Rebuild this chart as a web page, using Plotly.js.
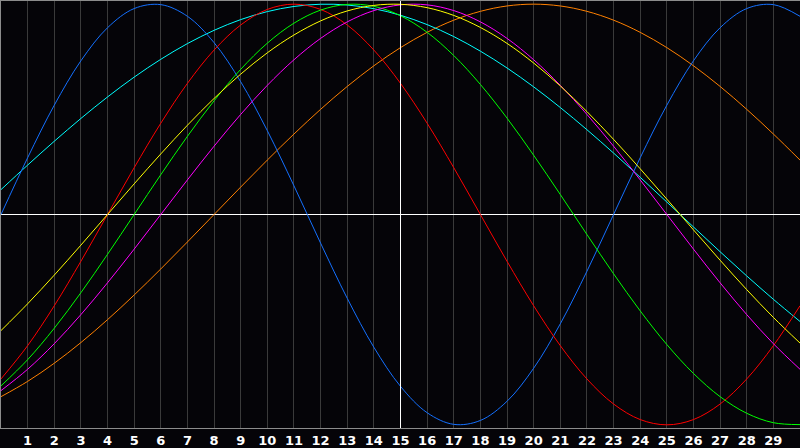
<!DOCTYPE html>
<html>
<head>
<meta charset="utf-8">
<script src="https://cdn.plot.ly/plotly-3.0.1.min.js"></script>
<style>
  html, body { margin: 0; padding: 0; background: #050408; }
  #chart { width: 800px; height: 448px; }
</style>
</head>
<body>
<div id="chart"></div>
<script>
// days shown on the chart, 0 .. 30
var days = [0,1,2,3,4,5,6,7,8,9,10,11,12,13,14,15,16,17,18,19,20,21,22,23,24,25,26,27,28,29,30]
var tickDays = [1,2,3,4,5,6,7,8,9,10,11,12,13,14,15,16,17,18,19,20,21,22,23,24,25,26,27,28,29]
var today = 15

// values, one per day
var physical = [0,0.2698,0.5196,0.7308,0.8879,0.9791,0.9977,0.9423,0.8170,0.6311,0.3984,0.1362,-0.1362,-0.3984,-0.6311,-0.8170,-0.9423,-0.9977,-0.9791,-0.8879,-0.7308,-0.5196,-0.2698,0,0.2698,0.5196,0.7308,0.8879,0.9791,0.9977,0.9423]
var emotional = [-0.7818,-0.6235,-0.4339,-0.2225,0,0.2225,0.4339,0.6235,0.7818,0.9010,0.9749,1,0.9749,0.9010,0.7818,0.6235,0.4339,0.2225,0,-0.2225,-0.4339,-0.6235,-0.7818,-0.9010,-0.9749,-1,-0.9749,-0.9010,-0.7818,-0.6235,-0.4339]
var intellectual = [-0.8146,-0.6901,-0.5406,-0.3717,-0.1893,0,0.1893,0.3717,0.5406,0.6901,0.8146,0.9096,0.9718,0.9989,0.9898,0.9450,0.8660,0.7557,0.6182,0.4582,0.2817,0.0951,-0.0951,-0.2817,-0.4582,-0.6182,-0.7557,-0.8660,-0.9450,-0.9898,-0.9989]
var intuitive = [-0.8372,-0.7357,-0.6142,-0.4759,-0.3247,-0.1646,0,0.1646,0.3247,0.4759,0.6142,0.7357,0.8372,0.9158,0.9694,0.9966,0.9966,0.9694,0.9158,0.8372,0.7357,0.6142,0.4759,0.3247,0.1646,0,-0.1646,-0.3247,-0.4759,-0.6142,-0.7357]
var aesthetic = [-0.5517,-0.4244,-0.2881,-0.1456,0,0.1456,0.2881,0.4244,0.5517,0.6673,0.7688,0.8535,0.9204,0.9677,0.9941,0.9993,0.9833,0.9464,0.8891,0.8135,0.7200,0.6111,0.4893,0.3572,0.2174,0.0730,-0.0730,-0.2174,-0.3572,-0.4893,-0.6111]
var awareness = [-0.8660,-0.7934,-0.7071,-0.6088,-0.5,-0.3827,-0.2588,-0.1305,0,0.1305,0.2588,0.3827,0.5,0.6088,0.7071,0.7934,0.8660,0.9239,0.9659,0.9914,1,0.9914,0.9659,0.9239,0.8660,0.7934,0.7071,0.6088,0.5,0.3827,0.2588]
var spiritual = [0.1183,0.2349,0.3482,0.4566,0.5587,0.6530,0.7379,0.8125,0.8756,0.9266,0.9647,0.9891,0.9996,0.9960,0.9785,0.9472,0.9028,0.8458,0.7765,0.6966,0.6068,0.5085,0.4031,0.2921,0.1769,0.0593,-0.0593,-0.1769,-0.2921,-0.4031,-0.5085]

function curve(values, color) {
  return {
    x: days,
    y: values,
    mode: 'lines',
    type: 'scatter',
    hoverinfo: 'none',
    line: { color: color, width: 1, shape: 'spline', smoothing: 1 }
  }
}

var data = [
  curve(awareness, '#ff8000'),
  curve(spiritual, '#00ffff'),
  curve(physical, '#1470ff'),
  curve(emotional, '#ff0000'),
  curve(intellectual, '#00ff00'),
  curve(intuitive, '#ff00ff'),
  curve(aesthetic, '#ffff00')
]

var layout = {
  width: 800,
  height: 448,
  autosize: false,
  showlegend: false,
  paper_bgcolor: '#050408',
  plot_bgcolor: '#050408',
  margin: { l: 1, r: 0, t: 1, b: 20 },
  xaxis: {
    range: [0, 30],
    tickvals: tickDays,
    ticktext: tickDays.map(String),
    ticks: '',
    showgrid: true,
    gridcolor: '#3a3a3a',
    gridwidth: 1,
    zeroline: false,
    showline: true,
    linecolor: '#8c8c8c',
    linewidth: 1,
    mirror: true,
    fixedrange: true,
    tickfont: { family: 'DejaVu Sans', size: 13, color: '#ffffff', weight: 'bold' }
  },
  yaxis: {
    range: [-1.015, 1.015],
    showticklabels: false,
    ticks: '',
    showgrid: false,
    zeroline: true,
    zerolinecolor: '#ffffff',
    zerolinewidth: 1,
    showline: true,
    linecolor: '#8c8c8c',
    linewidth: 1,
    fixedrange: true
  },
  // today marker
  shapes: [{
    type: 'line',
    xref: 'x', yref: 'paper',
    x0: today, x1: today, y0: 0, y1: 1,
    line: { color: '#ffffff', width: 1 },
    layer: 'above'
  }]
}

Plotly.newPlot('chart', data, layout, { staticPlot: true, displayModeBar: false })
</script>
</body>
</html>
